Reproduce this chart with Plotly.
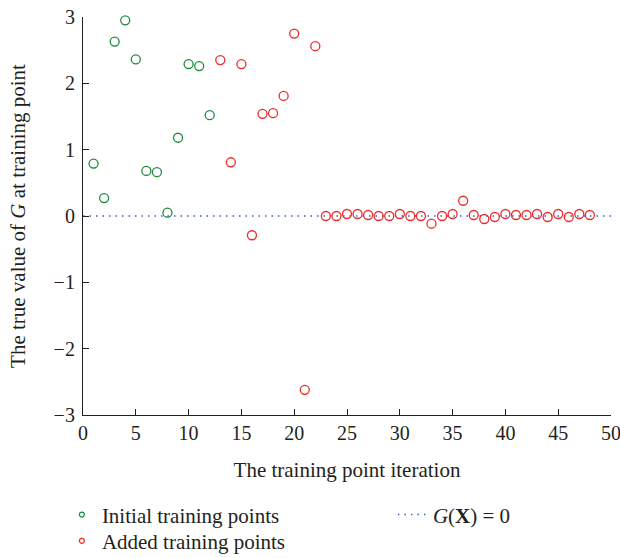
import plotly.graph_objects as go

init_x = [1, 2, 3, 4, 5, 6, 7, 8, 9, 10, 11, 12]
init_y = [0.79, 0.27, 2.63, 2.95, 2.36, 0.68, 0.66, 0.05, 1.18, 2.29, 2.26, 1.52]

added_x = list(range(13, 49))
added_y = [2.35, 0.81, 2.29, -0.29, 1.54, 1.55, 1.81, 2.75, -2.62, 2.56,
           0.0, 0.0, 0.03, 0.03, 0.015, 0.0, 0.0, 0.03, 0.0, 0.0,
           -0.115, 0.0, 0.03, 0.23, 0.015, -0.045, -0.015, 0.03, 0.015, 0.015,
           0.03, -0.015, 0.03, -0.015, 0.03, 0.015]

line_x = [0, 50]
line_y = [0, 0]

x_ticks = [0, 5, 10, 15, 20, 25, 30, 35, 40, 45, 50]
y_ticks = [-3, -2, -1, 0, 1, 2, 3]

FONT = "Liberation Serif"
GREEN = "#1e8a3c"
RED = "#ee2b2b"
BLUE = "#3b5bd0"
INK = "#231f20"

fig = go.Figure()
fig.add_trace(go.Scatter(x=line_x, y=line_y, mode="lines",
                         line=dict(color=BLUE, width=1.5, dash="1.5px,5px"),
                         name="<i>G</i>(<b>X</b>) = 0", legend="legend2", cliponaxis=False))
fig.add_trace(go.Scatter(x=init_x, y=init_y, mode="markers", cliponaxis=False,
                         marker=dict(symbol="circle-open", size=9, color=GREEN, line=dict(width=1.3)),
                         name="Initial training points", showlegend=False))
fig.add_trace(go.Scatter(x=added_x, y=added_y, mode="markers", cliponaxis=False,
                         marker=dict(symbol="circle-open", size=9, color=RED, line=dict(width=1.3)),
                         name="Added training points", showlegend=False))
# legend entries with small symbols, as in the reference legend
fig.add_trace(go.Scatter(x=[None], y=[None], mode="markers",
                         marker=dict(symbol="circle-open", size=5, color=GREEN, line=dict(width=1.2)),
                         name="Initial training points", legend="legend"))
fig.add_trace(go.Scatter(x=[None], y=[None], mode="markers",
                         marker=dict(symbol="circle-open", size=5, color=RED, line=dict(width=1.2)),
                         name="Added training points", legend="legend3"))

leg_common = dict(xanchor="left", yanchor="middle", orientation="v",
                  font=dict(size=21), bgcolor="rgba(0,0,0,0)", itemsizing="trace")

fig.update_layout(
    width=620, height=558,
    margin=dict(l=83, r=9, t=17, b=143, autoexpand=False),
    plot_bgcolor="white", paper_bgcolor="white",
    font=dict(family=FONT, size=20, color=INK),
    showlegend=True,
    legend=dict(x=-0.040, y=-0.251, **leg_common),
    legend3=dict(x=-0.040, y=-0.317, **leg_common),
    legend2=dict(x=0.587, y=-0.251, **leg_common),
)
fig.update_xaxes(range=[0, 50], tickvals=x_ticks, ticks="inside", ticklen=6,
                 showline=True, linecolor=INK, linewidth=1.2, tickcolor=INK,
                 showgrid=False, zeroline=False, automargin=False,
                 ticklabeloverflow="allow",
                 title=dict(text="The training point iteration", standoff=19, font=dict(size=21)),
                 tickfont=dict(size=20))
fig.update_yaxes(range=[-3, 3], tickvals=y_ticks, ticks="inside", ticklen=6,
                 showline=True, linecolor=INK, linewidth=1.2, tickcolor=INK,
                 showgrid=False, zeroline=False, automargin=False,
                 ticklabelstandoff=3, ticklabeloverflow="allow",
                 title=dict(text="The true value of <i>G</i> at training point", standoff=22, font=dict(size=21)),
                 tickfont=dict(size=20))

fig.write_html("out.html", config={"displayModeBar": False},
               post_script="document.body.style.margin='0';")
